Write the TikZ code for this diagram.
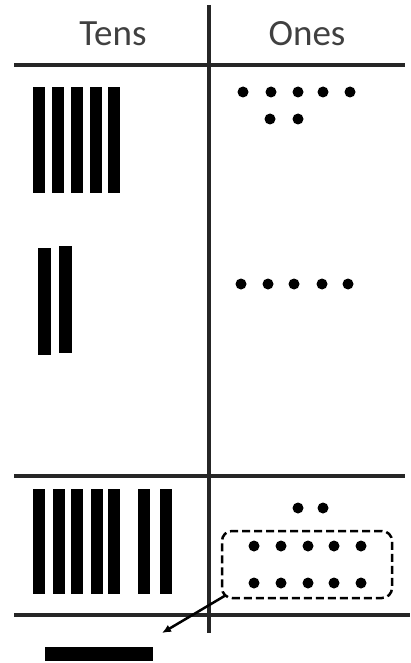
\documentclass[tikz,border=0pt]{standalone}
\usepackage{fontspec}
\setmainfont{Carlito}
\usetikzlibrary{arrows.meta}
\begin{document}
\begin{tikzpicture}[x=1pt, y=-1pt, >=latex,
    rule/.style={line width=3.5pt, black!85},
    tenbar/.style={fill=black},
    onedot/.style={fill=black},
    head/.style={font=\fontsize{37}{42}\selectfont, text=black!75, inner sep=0pt}]
        \useasboundingbox (0,0) rectangle (410,663);
        % ==== TABLE LINES ====
        \draw[rule] (209,5) -- (209,633);
        \draw[rule] (14,65) -- (405,65);
        \draw[rule] (14,476) -- (405,476);
        \draw[rule] (14,615) -- (410,615);
        \node[head] (tens) at (113,34) {Tens};
        \node[head] (ones) at (307,34) {Ones};
        % ==== 57 ====
        \foreach \x in {39,58,77,96,114}
            \fill[tenbar] (\x-6,87) rectangle (\x+6,193);
        \foreach \x in {243,271,298,323,350}
            \fill[onedot] (\x,92) circle (5.5);
        \foreach \x in {270,298}
            \fill[onedot] (\x,119) circle (5.5);
        % ==== 25 ====
        \fill[tenbar] (38,248) rectangle (51,355);
        \fill[tenbar] (59,246) rectangle (72,353);
        \foreach \x in {241,268,294,322,348}
            \fill[onedot] (\x,284) circle (5.5);
        % ==== SUM ====
        \foreach \x in {39,59,77,97,114,144,166}
            \fill[tenbar] (\x-6,489) rectangle (\x+6,594);
        \foreach \x in {298,323}
            \fill[onedot] (\x,508) circle (5.5);
        \node[draw, dashed, dash pattern=on 8pt off 4pt, line width=2.5pt,
              rounded corners=10pt, minimum width=170pt, minimum height=67pt]
              (group) at (307,564.5) {};
        \foreach \x in {254,281,308,334,361} {
            \fill[onedot] (\x,546) circle (5.5);
            \fill[onedot] (\x,583) circle (5.5);
        }
        % ==== NEW TEN ====
        \node[fill=black, minimum width=108pt, minimum height=14pt, inner sep=0pt]
              (newten) at (99,654) {};
        \coordinate (tip) at (162,633);
        \draw[-{Latex[length=9pt,width=8pt]}, line width=2.5pt]
              ([shift={(5pt,4pt)}]group.south west) -- (tip);
\end{tikzpicture}
\end{document}
